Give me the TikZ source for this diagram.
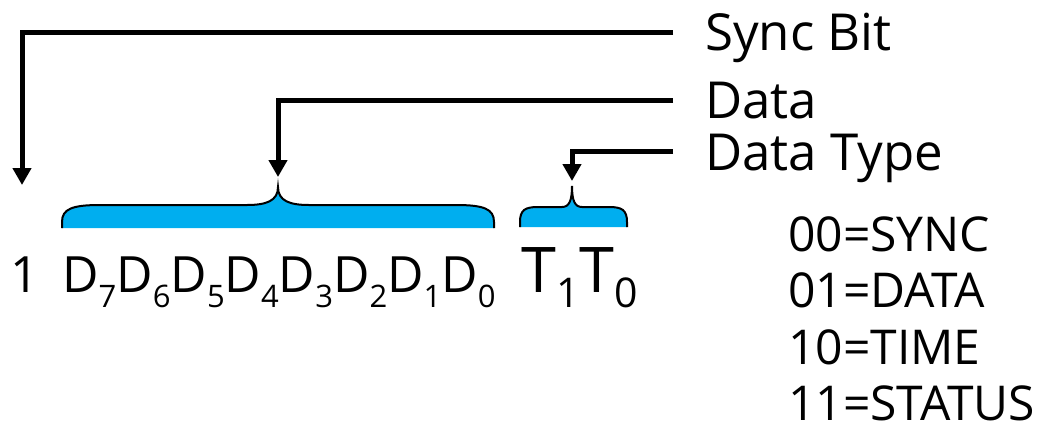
\documentclass[tikz,border=0pt]{standalone}
\usepackage{fontspec}
\setmainfont{Open Sans}
\usetikzlibrary{arrows.meta}
\definecolor{braceblue}{HTML}{00AEEF}
% lowered subscripts set in the text font
\newcommand\dsub[1]{\raisebox{-15pt}{\fontsize{31}{31}\selectfont #1}}
\newcommand\tsub[1]{\raisebox{-15pt}{\fontsize{41}{41}\selectfont #1}}
\begin{document}
\begin{tikzpicture}[x=1pt,y=-1pt,
  label/.style={anchor=base west,inner sep=0pt,font=\fontsize{51}{51}\selectfont},
  legend/.style={anchor=base west,inner sep=0pt,font=\fontsize{48}{48}\selectfont},
  bits/.style={anchor=base west,inner sep=0pt,font=\fontsize{50}{50}\selectfont},
  pointer/.style={line width=5pt,-{Triangle[width=18pt,length=17pt]}},
  bracefill/.style={fill=braceblue,draw=none},
  braceline/.style={draw=black,line width=2pt}]
\useasboundingbox (0,0) rectangle (1045,432);

% field labels
\node[label] (sync) at (705,50) {Sync Bit};
\node[label] (data) at (705,118) {Data};
\node[label] (dtype) at (705,170) {Data Type};

% bit string
\node[bits] (one) at (10,292) {1};
\node[bits] (dbits) at (62,292) {D\dsub{7}D\dsub{6}D\dsub{5}D\dsub{4}D\dsub{3}D\dsub{2}D\dsub{1}D\dsub{0}};
\node[bits,font=\fontsize{63}{63}\selectfont] (tbits) at (521,292) {T\tsub{1}T\tsub{0}};

% type codes
\node[legend] (c0) at (788,251) {00=SYNC};
\node[legend] (c1) at (788,307.5) {01=DATA};
\node[legend] (c2) at (788,364) {10=TIME};
\node[legend] (c3) at (788,420) {11=STATUS};

% braces over the data and type fields
\path[bracefill] (62,228) -- (62,222) .. controls (62,209) and (72,205) .. (100,205)
  -- (247,205) .. controls (266,205) and (278,201) .. (278,187)
  .. controls (278,201) and (290,205) .. (309,205) -- (456,205)
  .. controls (484,205) and (494,209) .. (494,222) -- (494,228) -- cycle;
\path[braceline] (62,228) -- (62,222) .. controls (62,209) and (72,205) .. (100,205)
  -- (247,205) .. controls (266,205) and (278,201) .. (278,187)
  .. controls (278,201) and (290,205) .. (309,205) -- (456,205)
  .. controls (484,205) and (494,209) .. (494,222) -- (494,228);
\coordinate (dtip) at (278,187);

\path[bracefill] (520,227) -- (520,222) .. controls (520,210) and (525,207) .. (538,207)
  -- (562,207) .. controls (569,207) and (572,201) .. (572,186)
  .. controls (572,201) and (575,207) .. (582,207) -- (609,207)
  .. controls (622,207) and (627,210) .. (627,222) -- (627,227) -- cycle;
\path[braceline] (520,227) -- (520,222) .. controls (520,210) and (525,207) .. (538,207)
  -- (562,207) .. controls (569,207) and (572,201) .. (572,186)
  .. controls (572,201) and (575,207) .. (582,207) -- (609,207)
  .. controls (622,207) and (627,210) .. (627,222) -- (627,227);
\coordinate (ttip) at (572,186);

% leader ends beside the labels and arrow targets
\coordinate (syncEnd) at (673,32);
\coordinate (dataEnd) at (673,100);
\coordinate (typeEnd) at (673,151);
\coordinate (syncTo) at (22,185);
\coordinate (dataTo) at (278,177);
\coordinate (typeTo) at (572,181);

\draw[pointer] (syncEnd) -| (syncTo);
\draw[pointer] (dataEnd) -| (dataTo);
\draw[pointer] (typeEnd) -| (typeTo);
\end{tikzpicture}
\end{document}
